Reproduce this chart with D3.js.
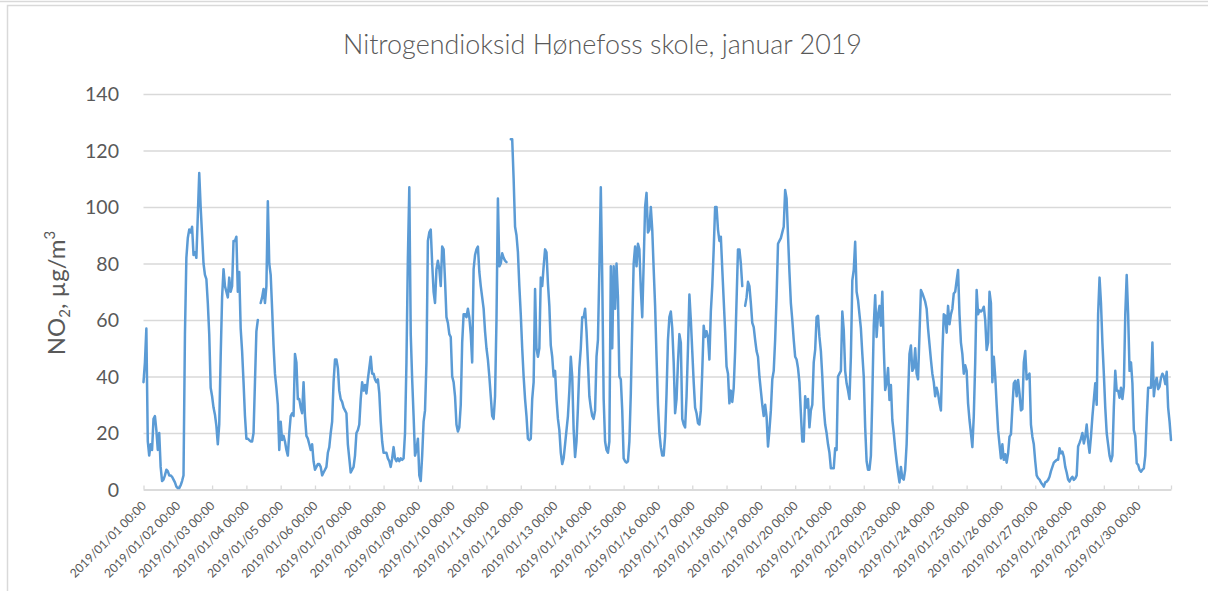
<!DOCTYPE html>
<html>
<head>
<meta charset="utf-8">
<script src="https://cdn.jsdelivr.net/npm/d3@7/dist/d3.min.js"></script>
<style>
  body { margin: 0; background: #fff; }
  svg text { font-family: Lato, "Open Sans", sans-serif; fill: #595959; }
</style>
</head>
<body>
<script>
// chart texts
const titleText = "Nitrogendioksid Hønefoss skole, januar 2019";
const yTicks = [0, 20, 40, 60, 80, 100, 120, 140];
const dayLabels = d3.range(1, 31).map(d => "2019/01/" + String(d).padStart(2, "0") + " 00:00");

// hourly NO2 (µg/m3), one row per day, null = missing hour
const no2 = [
  38, 45, 57, 17, 12, 16, 14, 25, 26, 21, 14, 20, 8, 3, 3.5, 5, 7, 6.5, 5, 5, 4.5, 3.5, 2.5, 1,
  0.5, 0.5, 1.5, 3, 5, 55, 82, 89, 92, 91, 93, 83, 84, 82, 97, 112, 100, 90, 80, 76, 74.5, 66, 55, 36,
  33, 29, 26.5, 22.5, 16, 23, 47, 68, 78, 72, 70, 68, 75, 70, 72, 88, 88, 89.5, 70, 77, 57, 49, 38, 26,
  18, 18, 17.5, 17, 17, 20, 38, 56, 60, null, 66, 68, 71, 66, 72, 102, 80, 76, 64, 51, 41, 36, 30, 14,
  24, 17.5, 19, 17, 14, 12, 20, 26, 27, 26, 48, 45, 32, 32, 29, 27, 38, 26, 19, 18, 16, 14, 16, 10,
  7, 8, 9, 9, 8, 5, 6, 7, 8, 13, 15, 20, 24, 38, 46, 46, 43, 35, 32, 31, 29, 28, 27, 16,
  11, 6, 7, 8, 12, 20, 21, 23, 32, 38, 35, 37, 34, 39, 43, 47, 41, 41, 39, 38, 39, 34, 24, 17,
  13, 13, 13, 11, 10, 8, 11, 15, 11, 10, 11, 10, 11, 10.5, 11, 20, 45, 82, 107, 55, 39, 26, 12, 14,
  18, 5, 3, 12, 24, 28, 45, 88, 91, 92, 80, 70, 66, 78, 81, 78, 72, 86, 85, 74, 61, 59, 55, 54,
  40, 38, 33, 23, 20.5, 22, 30, 52, 62, 62, 61, 64, 61, 55, 45, 78, 83, 85, 86, 77, 72, 68, 64, 56,
  50, 46, 40, 33, 26, 25, 33, 60, 103, 79, 80, 83.6, 82, 81, 80.5, null, null, 124, 124, 110, 93, 90, 84, 72,
  62, 50, 40, 32, 26, 18, 17.5, 18, 32, 38, 71, 50, 47, 50, 75, 72, 79, 85, 84, 73, 65, 51, 47, 40,
  42, 32, 25, 21, 13, 9, 11, 16, 21, 26, 35, 47, 40, 21, 11.5, 17, 29, 43, 50, 61, 61, 64, 56, 45,
  33, 29, 26, 25, 28, 47, 53, 78, 107, 75, 32, 17, 14, 13, 17, 79, 50, 79, 64, 80, 68, 40, 39, 28,
  11, 10, 9.5, 10, 17, 34, 58, 80, 86, 79, 87, 85, 71, 61, 80, 100, 105, 91, 92, 100, 92, 78, 65, 47,
  30, 20, 15, 12, 12, 19, 34, 53, 61, 63, 57, 45, 27, 32, 45, 55, 52, 25, 23, 22, 33, 50, 69, 60,
  49, 38, 29, 27, 23.5, 23, 28, 42, 58, 54, 56, 54, 46, 63, 72, 85, 100, 100, 92, 88, 89.5, 78, 67, 56,
  43.5, 41, 30.5, 35, 31, 36, 49, 67, 85, 85, 80, 72, null, 65, 68, 73.5, 72, 66, 59, 57.5, 53, 49, 47, 40,
  35, 30, 26, 30, 25.8, 15.2, 21, 28, 39, 42, 53, 68, 87, 88, 89, 91, 93, 106, 103, 90, 77, 66, 60, 53,
  47, 46, 43, 38, 27, 17, 17, 33, 29, 32, 22, 28, 30, 45, 49.4, 61, 61.5, 54, 49, 40, 29, 23, 20, 16,
  13, 7.5, 7.5, 7.5, 14.6, 14, 40, 41, 42, 63, 56.5, 42, 37.6, 35, 32, 47, 74, 77.7, 87.7, 70, 67, 62, 57, 48,
  40, 22, 10, 7, 7, 12, 33, 58, 68.8, 54, 62, 65, 58, 70, 50.5, 35.2, 37.6, 43, 31.7, 37, 24.6, 20, 14.5, 10,
  6, 2.5, 8, 4, 3.5, 7, 16, 33, 48, 51, 42, 43, 50, 41, 39, 55, 70.6, 69.5, 68, 66.5, 64, 57, 51.5, 46,
  41, 38, 33, 36, 34, 30.5, 28, 48, 62, 61.5, 55.5, 65, 58.5, 62, 64, 69.4, 70, 74, 77.7, 62, 52, 48, 41, 44,
  42, 30.5, 24.6, 20, 15, 26, 45, 70.6, 62, 63.5, 63, 63.5, 64.7, 60, 49.4, 52, 70, 66, 38, 47, 40, 30, 21, 16,
  11, 16, 10.5, 12.5, 9.5, 12.8, 18.7, 19.5, 29, 37.6, 38.5, 33, 38.8, 34, 28, 28.5, 45, 49, 39, 40, 41, 23, 18.7, 16,
  10, 5, 4, 3.5, 2.5, 1.8, 1, 2.5, 2.8, 3.4, 4.5, 6.5, 8, 9.5, 10, 10.5, 10.5, 14.6, 12.8, 13.4, 11.6, 8, 6, 3.5,
  2.8, 3.9, 4.5, 3.4, 3.9, 5, 15.2, 16.5, 18, 20, 16.3, 18.7, 23, 17, 13, 18.7, 25.8, 31.7, 37.6, 30, 62, 75, 66, 52,
  41, 29, 20, 16, 12, 10, 12, 29, 42, 35, 35, 32.5, 36, 32, 36.4, 62, 75.9, 62, 42, 45, 37.6, 21, 19, 9.3,
  8.7, 6.9, 6.3, 7, 7.5, 12, 25, 36, 36, 36, 52, 33, 37.6, 39.5, 35.5, 36.4, 39.5, 41, 40, 37.3, 41.7, 29, 24, 17.5
];

// dimensions
const width = 1208;
const height = 591;
const plot = { left: 143.5, right: 1171, top: 94, bottom: 489.5 };

const grid_color = "#d9d9d9";
const line_color = "#5b9bd5";

let svg = d3.select("body")
    .append("svg")
    .attr("width", width)
    .attr("height", height);

// outer frame of the chart area
svg.append("path")
    .attr("d", "M0,1.5H" + width + "M7.5," + height + "V5.5H" + width)
    .attr("fill", "none")
    .attr("stroke", grid_color)
    .attr("stroke-width", 1.5);

let x = d3.scalePoint()
    .domain(d3.range(no2.length))
    .range([plot.left, plot.right]);

let y = d3.scaleLinear()
    .domain([0, 140])
    .range([plot.bottom, plot.top]);

// scale a text so it is as wide as the reference
function fitWidth(sel, target) {
    let fs = parseFloat(sel.style("font-size"));
    let len = sel.node().getComputedTextLength();
    sel.style("font-size", (fs * target / len) + "px");
}

// y axis with gridlines
let yAxis = svg.append("g")
    .attr("transform", "translate(" + plot.left + ",0)")
    .call(d3.axisLeft(y)
        .tickValues(yTicks)
        .tickSize(-(plot.right - plot.left))
        .tickPadding(24.5));
yAxis.select(".domain").remove();
yAxis.selectAll(".tick line")
    .attr("stroke", grid_color)
    .attr("stroke-width", 1.3);
yAxis.selectAll(".tick text")
    .attr("fill", "#595959")
    .style("font-size", "20px")
    .attr("dy", "0.35em");
fitWidth(yAxis.select(".tick:last-of-type text"), 34);
yAxis.selectAll(".tick text").style("font-size", yAxis.select(".tick:last-of-type text").style("font-size"));

// x axis, a label every 24 hours and a closing tick at the end
let xTickValues = d3.range(0, no2.length, 24).concat([no2.length - 1]);
let xAxis = svg.append("g")
    .attr("transform", "translate(0," + plot.bottom + ")")
    .call(d3.axisBottom(x)
        .tickValues(xTickValues)
        .tickSizeInner(-4)
        .tickSizeOuter(0)
        .tickFormat(i => i % 24 === 0 ? dayLabels[i / 24] : ""));
xAxis.select(".domain")
    .attr("stroke", grid_color)
    .attr("stroke-width", 1.6);
xAxis.selectAll(".tick line")
    .attr("stroke", grid_color)
    .attr("stroke-width", 1.3);
let xLabels = xAxis.selectAll(".tick text")
    .attr("fill", "#595959")
    .attr("x", 0)
    .attr("y", 0)
    .attr("dy", 0)
    .attr("text-anchor", "end")
    .attr("transform", "translate(3,17) rotate(-45)")
    .style("font-size", "12px");
fitWidth(xAxis.select(".tick text"), 102);
xLabels.style("font-size", xAxis.select(".tick text").style("font-size"));

// the NO2 series
let line = d3.line()
    .defined(d => d != null)
    .x((d, i) => x(i))
    .y(d => y(d));

svg.append("path")
    .datum(no2)
    .attr("fill", "none")
    .attr("stroke", line_color)
    .attr("stroke-width", 2.5)
    .attr("stroke-linejoin", "round")
    .attr("stroke-linecap", "round")
    .attr("d", line);

// title, light weight like the original
let title = svg.append("text")
    .attr("x", 602.5)
    .attr("y", 54)
    .attr("text-anchor", "middle")
    .style("font-size", "26px")
    .style("font-weight", 300)
    .text(titleText);
fitWidth(title, 519);

// y axis title: NO2, µg/m3 with sub and superscript
let yTitle = svg.append("text")
    .attr("transform", "translate(65,293) rotate(-90)")
    .attr("text-anchor", "middle")
    .style("font-size", "24px");
yTitle.append("tspan").text("NO");
yTitle.append("tspan").attr("dy", 5).style("font-size", "15px").text("2");
yTitle.append("tspan").attr("dy", -5).text(", µg/m");
yTitle.append("tspan").attr("dy", -10).style("font-size", "15px").text("3");
</script>
</body>
</html>
